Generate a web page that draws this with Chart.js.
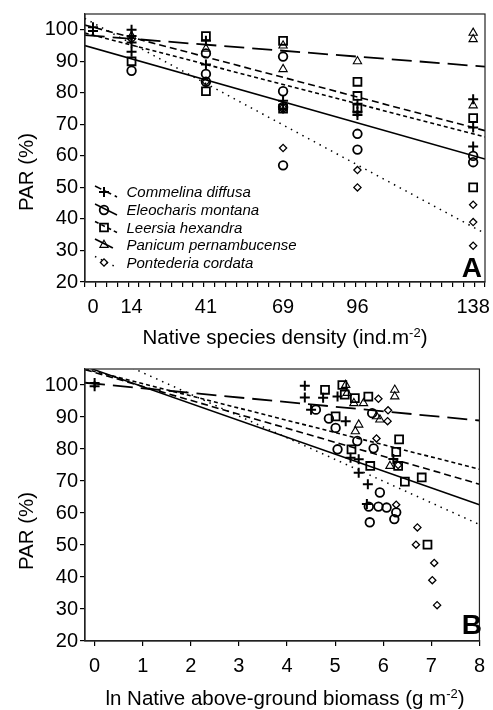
<!DOCTYPE html>
<html><head><meta charset="utf-8">
<script src="https://cdn.jsdelivr.net/npm/chart.js@4.4.1/dist/chart.umd.min.js"></script>
<style>
html,body{margin:0;padding:0;background:#fff;}
body{width:493px;height:710px;position:relative;overflow:hidden;font-family:"Liberation Sans",Arial,sans-serif;color:#000;}
.pane{position:absolute;left:0;width:493px;height:355px;}
canvas{display:block;}
.ytitle{position:absolute;width:200px;height:24px;line-height:24px;font-size:20.5px;text-align:center;transform:rotate(-90deg);transform-origin:50% 50%;white-space:nowrap;}
.xtitle{position:absolute;left:35px;width:500px;height:24px;line-height:24px;font-size:20.5px;text-align:center;white-space:nowrap;}
.xtitle sup{font-size:13px;line-height:0;vertical-align:7px;}
.letter{position:absolute;right:11px;height:28px;line-height:28px;font-size:28px;font-weight:bold;}
</style>
</head><body>
<div class="pane" style="top:0"><canvas id="cA" width="493" height="355"></canvas></div>
<div class="pane" style="top:355px"><canvas id="cB" width="493" height="355"></canvas></div>
<div class="ytitle" style="left:-74px;top:160px">PAR (%)</div>
<div class="ytitle" style="left:-74px;top:519px">PAR (%)</div>
<div class="xtitle" style="top:325px">Native species density (ind.m<sup>-2</sup>)</div>
<div class="xtitle" style="top:686px">ln Native above-ground biomass (g m<sup>-2</sup>)</div>
<div class="letter" style="top:254px">A</div>
<div class="letter" style="top:611px">B</div>
<script>
// ---------- data ----------
const speciesNames = ['Commelina diffusa','Eleocharis montana','Leersia hexandra','Panicum pernambucense','Pontederia cordata'];
const densityTicks = [0, 14, 41, 69, 96, 138];
const biomassTicks = [0, 1, 2, 3, 4, 5, 6, 7, 8];
const parTicks = [20, 30, 40, 50, 60, 70, 80, 90, 100];

// Panel A: [native density, PAR %]
const commelinaA = [[0,100.8],[0,99.6],[14,100],[14,98],[14,96],[14,93],[41,96.5],[41,89],[69,77.5],[69,75],[96,76.5],[96,74],[96,73],[138,78],[138,69],[138,63]];
const eleocharisA = [[14,87],[41,92.5],[41,86],[41,83.5],[69,91.5],[69,80.5],[69,75.5],[69,57],[96,67],[96,62],[138,60],[138,58]];
const leersiaA = [[14,90],[41,98],[41,80.5],[69,96.5],[69,75],[96,83.5],[96,79],[96,75],[138,72],[138,50]];
const panicumA = [[14,98],[41,94],[69,95],[69,87.5],[69,75.5],[96,90],[138,99],[138,97],[138,76]];
const pontederiaA = [[14,97],[41,83.5],[69,62.5],[96,55.5],[96,50],[138,44.5],[138,39],[138,31.5]];

// Panel B: [ln native biomass, PAR %]
const commelinaB = [[0,100.6],[0,99.6],[4.37,99.8],[4.37,96.1],[4.5,92.3],[4.75,96],[5.05,96.4],[5.22,88.7],[5.32,77.3],[5.49,76.8],[5.49,72.6],[5.68,69],[5.66,62.8],[6.21,76.9]];
const eleocharisB = [[4.6,92.3],[4.87,89.5],[5.01,86.6],[5.05,79.9],[5.46,82.5],[5.8,80.2],[5.77,91.2],[5.93,66.4],[5.7,62],[5.9,62],[6.07,61.7],[6.27,60.2],[6.23,58.1],[5.72,57.1]];
const leersiaB = [[4.79,98.5],[5.15,100],[5.2,97],[5.41,95.9],[5.69,96.4],[5.01,90.2],[5.34,79.9],[5.73,74.7],[6.33,83],[6.27,79.1],[6.31,74.7],[6.45,69.8],[6.8,71.1],[6.92,50.1]];
const panicumB = [[5.22,100],[5.25,97.5],[5.39,94.3],[5.59,94.3],[5.49,87.6],[5.42,85.5],[5.86,90.2],[5.93,89.2],[6.24,98.5],[6.24,96.4],[6.14,74.7]];
const pontederiaB = [[5.9,95.7],[6.1,92.1],[6.09,88.7],[5.86,83.3],[6.31,75],[6.27,62.6],[6.71,55.5],[6.68,50.1],[7.06,44.4],[7.02,39],[7.12,31.2]];

// Fitted regression lines: PAR read at both ends of the x axis
const fitXA = [-3, 142.3];
const commelinaFitA = [101.5, 68];
const eleocharisFitA = [95, 59];
const leersiaFitA = [99, 66];
const panicumFitA = [98.3, 88.3];
const pontederiaFitA = [103.6, 35.4];

const fitXB = [-0.2, 8];
const commelinaFitB = [104.8, 69];
const eleocharisFitB = [105.8, 62.6];
const leersiaFitB = [105, 73.7];
const panicumFitB = [100.7, 88.9];
const pontederiaFitB = [112, 56.4];

// ---------- styles ----------
const FONT = '"Liberation Sans", Arial, Helvetica, sans-serif';
Chart.defaults.font.family = FONT;
Chart.defaults.color = '#000';
const pStyle = ['cross','circle','rect','triangle','rectRot'];
const pRadius = [5, 4.3, 5.6, 4.8, 3.6];
const pBorder = [2, 1.8, 1.8, 1.1, 1.3];
const lDash = [[7,4],[],[4,3],[20,8],[1.5,5]];
const lWidth = [1.6, 1.5, 1.6, 1.8, 1.5];

function pts(arr){ return arr.map(p => ({x:p[0], y:p[1]})); }
function fitLine(xs, ys){ return [{x:xs[0], y:ys[0]}, {x:xs[1], y:ys[1]}]; }

function buildDatasets(pointSets, fitSets, fitX){
  const ds = [];
  fitSets.forEach((f, i) => ds.push({
    label: speciesNames[i] + ' fit', data: fitLine(fitX, f), showLine: true,
    borderColor: '#000', borderWidth: lWidth[i], borderDash: lDash[i], pointRadius: 0, fill: false, order: 2
  }));
  pointSets.forEach((p, i) => ds.push({
    label: speciesNames[i], data: pts(p), showLine: false,
    pointStyle: pStyle[i], pointRadius: pRadius[i], pointBorderWidth: pBorder[i],
    pointBorderColor: '#000', pointBackgroundColor: 'rgba(0,0,0,0)', order: 1
  }));
  return ds;
}

const frame = {
  id: 'frame',
  afterDraw(chart){
    const a = chart.chartArea, c = chart.ctx;
    c.save(); c.strokeStyle = '#222'; c.lineWidth = 1.2;
    c.strokeRect(a.left, a.top, a.right - a.left, a.bottom - a.top);
    c.restore();
  }
};

function drawMarker(c, style, r, bw, x, y){
  c.save();
  c.strokeStyle = '#000'; c.fillStyle = 'rgba(0,0,0,0)'; c.lineWidth = bw;
  if (Chart.helpers && Chart.helpers.drawPoint) {
    Chart.helpers.drawPoint(c, {pointStyle: style, radius: r, borderWidth: bw, rotation: 0}, x, y);
  }
  c.restore();
}

const legendRowY = [193, 211, 228.5, 246, 263.5];
const legend = {
  id: 'speciesLegend',
  afterDraw(chart){
    const c = chart.ctx;
    c.save();
    speciesNames.forEach((name, i) => {
      const y = legendRowY[i];
      c.strokeStyle = '#000'; c.lineWidth = lWidth[i]; c.setLineDash(lDash[i]);
      c.beginPath(); c.moveTo(95, y - 7); c.lineTo(117, y + 4); c.stroke();
      c.setLineDash([]);
      drawMarker(c, pStyle[i], pRadius[i], pBorder[i], 104, y - 1);
      c.fillStyle = '#000'; c.font = 'italic 15px ' + FONT;
      c.textBaseline = 'middle'; c.textAlign = 'left';
      c.fillText(name, 126.5, y);
    });
    c.restore();
  }
};

function yAxis(){
  return {
    type: 'linear', min: 20, max: 105,
    afterBuildTicks: s => { s.ticks = parTicks.map(v => ({value: v})); },
    ticks: { padding: 2, font: {size: 20}, color: '#000' },
    grid: { drawOnChartArea: false, drawTicks: true, tickLength: 5, tickColor: '#000', tickWidth: 1.2, lineWidth: 1.2, color: '#000' },
    border: { display: true, color: '#222', width: 1.2 },
    afterFit: s => { s.width = 85; }
  };
}

// Panel A x axis: unlabeled minor tick marks plus labeled density levels
const minorTicksA = [];
for (let i = 0; i <= 37; i++) minorTicksA.push(-2.9 + i * 3.924);

const chartA = new Chart(document.getElementById('cA'), {
  type: 'scatter',
  data: { datasets: buildDatasets(
    [commelinaA, eleocharisA, leersiaA, panicumA, pontederiaA],
    [commelinaFitA, eleocharisFitA, leersiaFitA, panicumFitA, pontederiaFitA], fitXA) },
  options: {
    responsive: false, animation: false, events: [],
    layout: { padding: { top: 9, right: 8, left: 0, bottom: 0 } },
    plugins: { legend: { display: false }, tooltip: { enabled: false } },
    scales: {
      x: {
        type: 'linear', min: -2.9, max: 142.3,
        afterBuildTicks: s => {
          const t = minorTicksA.map(v => ({value: v}));
          densityTicks.forEach(v => t.push({value: v}));
          t.sort((a, b) => a.value - b.value);
          s.ticks = t;
        },
        ticks: { autoSkip: false, maxRotation: 0, padding: 8, font: {size: 20}, color: '#000',
          callback: v => densityTicks.includes(v) ? String(v) : '' },
        grid: { drawOnChartArea: false, drawTicks: true, tickLength: 5, lineWidth: 1.2, tickWidth: 1.2, color: '#000',
          tickColor: ctx => (ctx.tick && densityTicks.includes(ctx.tick.value)) ? 'rgba(0,0,0,0)' : '#000' },
        border: { display: true, color: '#222', width: 1.2 },
        afterFit: s => { s.height = 73; }
      },
      y: yAxis()
    }
  },
  plugins: [frame, legend]
});

const chartB = new Chart(document.getElementById('cB'), {
  type: 'scatter',
  data: { datasets: buildDatasets(
    [commelinaB, eleocharisB, leersiaB, panicumB, pontederiaB],
    [commelinaFitB, eleocharisFitB, leersiaFitB, panicumFitB, pontederiaFitB], fitXB) },
  options: {
    responsive: false, animation: false, events: [],
    layout: { padding: { top: 12, right: 8, left: 0, bottom: 0 } },
    plugins: { legend: { display: false }, tooltip: { enabled: false } },
    scales: {
      x: {
        type: 'linear', min: -0.2, max: 8,
        afterBuildTicks: s => { s.ticks = biomassTicks.map(v => ({value: v})); },
        ticks: { autoSkip: false, maxRotation: 0, padding: 8, font: {size: 20}, color: '#000' },
        grid: { drawOnChartArea: false, drawTicks: true, tickLength: 5, lineWidth: 1.2, tickWidth: 1.2, color: '#000', tickColor: '#000' },
        border: { display: true, color: '#222', width: 1.2 },
        afterFit: s => { s.height = 69; }
      },
      y: yAxis()
    }
  },
  plugins: [frame]
});
</script>
</body></html>
